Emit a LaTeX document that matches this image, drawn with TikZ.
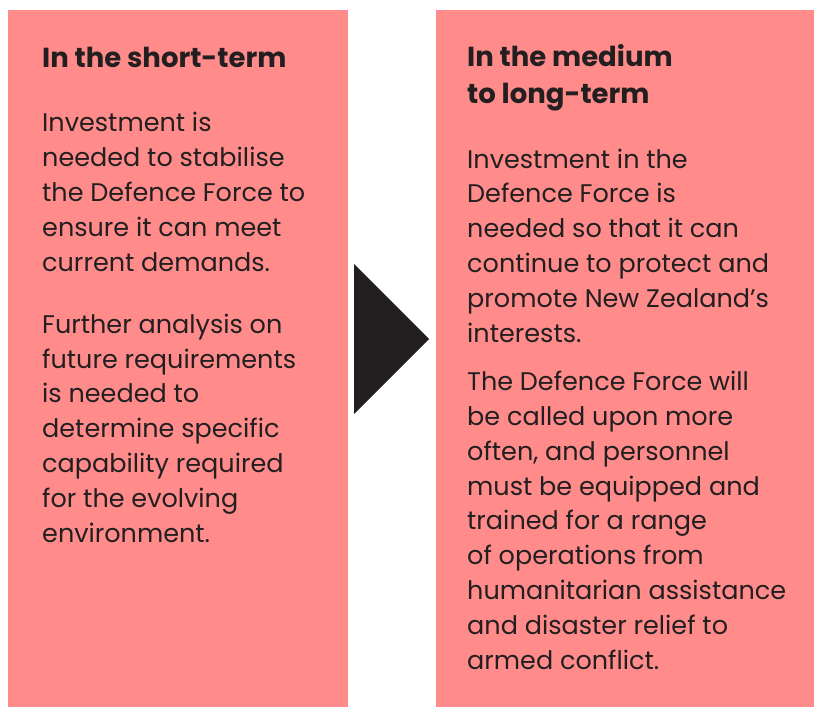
\documentclass[tikz,border=0pt]{standalone}
\usepackage{fontspec}
\setmainfont{Poppins}
\definecolor{boxpink}{HTML}{FF8B8B}
\definecolor{ink}{HTML}{231F20}
\begin{document}
\begin{tikzpicture}[x=1pt,y=-1pt,
  panel/.style={fill=boxpink,draw=none},
  head/.style={anchor=base west,inner sep=0pt,align=left,text=ink,font=\fontsize{27.5}{37}\selectfont\bfseries},
  body/.style={anchor=base west,inner sep=0pt,align=left,text=ink,font=\fontsize{25.5}{34.8}\selectfont}]
\useasboundingbox[fill=white] (0,0) rectangle (814,707);
\path[panel] (8,10) rectangle (348,707);
\path[panel] (436,10) rectangle (814,707);
\fill[ink] (354,264) -- (429,339) -- (354,414) -- cycle;
\node[head] (h1) at (42,67) {In the short-term};
\node[body] (p1) at (42,271) {Investment is\\needed to stabilise\\the Defence Force to\\ensure it can meet\\current demands.};
\node[body] (p2) at (42,542) {Further analysis on\\future requirements\\is needed to\\determine specific\\capability required\\for the evolving\\environment.};
\node[head] (h2) at (467,103) {In the medium\\to long-term};
\node[body] (p3) at (467,342) {Investment in the\\Defence Force is\\needed so that it can\\continue to protect and\\promote New Zealand’s\\interests.};
\node[body] (p4) at (467,669) {The Defence Force will\\be called upon more\\often, and personnel\\must be equipped and\\trained for a range\\of operations from\\humanitarian assistance\\and disaster relief to\\armed conflict.};
\end{tikzpicture}
\end{document}
